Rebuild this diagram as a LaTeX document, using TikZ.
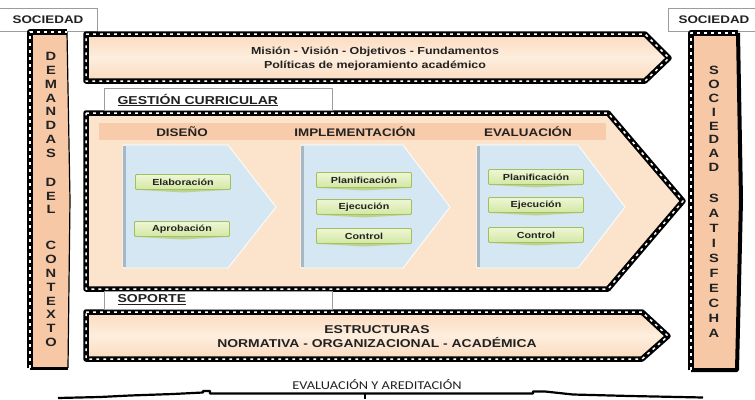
\documentclass[tikz,border=0pt]{standalone}
\usepackage{fontspec}
\setmainfont{Liberation Sans}[FakeStretch=1.22]
\newfontfamily\captionfont{Carlito}[FakeStretch=1.2]
\usetikzlibrary{calc}

\definecolor{peach}{HTML}{F7C8A6}
\definecolor{peachlight}{HTML}{FEEEDF}
\definecolor{peachmid}{HTML}{FADABD}
\definecolor{bigfill}{HTML}{FCE4CC}
\definecolor{headstrip}{HTML}{F8CCAB}
\definecolor{chevblue}{HTML}{D4E7F2}
\definecolor{chevedge}{HTML}{A4B8C8}
\definecolor{boxlight}{HTML}{EEF7D6}
\definecolor{boxdark}{HTML}{D2E7A2}
\definecolor{boxline}{HTML}{A2BF60}
\definecolor{labelgray}{HTML}{9C9C9C}
\definecolor{ink}{HTML}{222222}

\tikzset{
  film/.style={draw=black, line width=5.5pt, line join=round,
    postaction={draw=white, line width=1.5pt, line join=round,
      dash pattern=on 2.8pt off 4.2pt}},
  tag/.style={draw=labelgray, line width=0.8pt, fill=white},
  chev/.style={fill=chevblue, draw=white, line width=0.8pt},
  task/.style={draw=boxline, line width=0.9pt, top color=boxlight,
    bottom color=boxdark, minimum width=95pt, minimum height=15pt,
    inner sep=0pt, rounded corners=1pt, text=ink,
    font=\bfseries\fontsize{8.8}{10}\selectfont},
  head/.style={text=ink, font=\bfseries\fontsize{11}{13}\selectfont},
  banner/.style={text=ink, align=center,
    font=\bfseries\fontsize{10.5}{14}\selectfont},
  letters/.style={align=center, inner sep=0pt, text=ink,
    font=\bfseries\fontsize{12}{13.8}\selectfont},
}

\begin{document}
\begin{tikzpicture}[x=1pt, y=-1pt]
\useasboundingbox (0,0) rectangle (755,399);

% society labels in the corners
\draw[tag] (-2,8) rectangle (97,31);
\node[head] (socL) at (48,20) {SOCIEDAD};
\draw[tag] (668,8) rectangle (757,31);
\node[head] (socR) at (714,20) {SOCIEDAD};

% left band: demands of the context
\fill[peach] (30,32) -- (67,32) -- (70,200) -- (68,368) -- (30,368) -- cycle;
\draw[black, line width=1.2pt] (67,32) -- (70,200) -- (68,368);
\draw[black, line width=3pt] (30,368) -- (68,368);
\draw[film] (30,368) -- (30,32) -- (67,32);
\node[letters] (demA) at (51,105) {D\\E\\M\\A\\N\\D\\A\\S};
\node[letters] (demB) at (51,196) {D\\E\\L};
\node[letters] (demC) at (51,294) {C\\O\\N\\T\\E\\X\\T\\O};

% right band: satisfied society
\fill[peach] (691,33) -- (738,33) -- (741,200) -- (737,370) -- (691,370) -- cycle;
\draw[black, line width=4pt, line join=round] (738,33) -- (741,200) -- (737,370) -- (691,370);
\draw[film] (691,370) -- (691,33) -- (738,33);
\node[letters] (socA) at (714,119) {S\\O\\C\\I\\E\\D\\A\\D};
\node[letters, font=\bfseries\fontsize{12}{15}\selectfont] (socB) at (714,266) {S\\A\\T\\I\\S\\F\\E\\C\\H\\A};

% mission banner
\draw[film, top color=peachmid, bottom color=peachmid, middle color=peachlight]
  (86,34) -- (645,34) -- (669,58) -- (645,81) -- (86,81) -- cycle;
\node[banner, font=\bfseries\fontsize{10.2}{14}\selectfont] (mision) at (375,59)
  {Misión - Visión - Objetivos - Fundamentos\\Políticas de mejoramiento académico};

% curricular management arrow
\draw[film, fill=bigfill] (86,113) -- (608,113) -- (683,201) -- (608,289) -- (86,289) -- cycle;
\fill[headstrip] (99,123) rectangle (606,140);
\node[head] (hDis) at (182,132) {DISEÑO};
\node[head] (hImp) at (355,132) {IMPLEMENTACIÓN};
\node[head] (hEva) at (528,132) {EVALUACIÓN};

% phase chevrons
\draw[chev] (123,145) -- (228,145) -- (276,207) -- (228,268) -- (123,268) -- cycle;
\draw[chev] (301,145) -- (403,145) -- (450,207) -- (403,268) -- (301,268) -- cycle;
\draw[chev] (477,145) -- (578,145) -- (625,207) -- (578,268) -- (477,268) -- cycle;
\foreach \x in {124.5,302.5,478.5}
  \draw[chevedge, line width=3pt] (\x,146) -- (\x,267);

% tasks
\node[task] (elab) at (183,182) {Elaboración};
\node[task] (apro) at (182,229) {Aprobación};
\node[task] (planI) at (364,180) {Planificación};
\node[task] (ejecI) at (364,207) {Ejecución};
\node[task] (contI) at (364,236) {Control};
\node[task] (planE) at (536,177) {Planificación};
\node[task] (ejecE) at (536,205) {Ejecución};
\node[task] (contE) at (536,235) {Control};
\foreach \n in {elab,apro,planI,ejecI,contI,planE,ejecE,contE}
  \fill[boxline!70] ([xshift=3pt]\n.south west) -- ($(\n.south)+(0,2.5)$)
    -- ([xshift=-3pt]\n.south east) -- cycle;

% structures banner
\draw[film, top color=peachmid, bottom color=peachmid, middle color=peachlight]
  (86,312) -- (642,312) -- (668,336) -- (642,359) -- (86,359) -- cycle;
\node[banner, font=\bfseries\fontsize{11.4}{14}\selectfont] (estr) at (377,337)
  {ESTRUCTURAS\\NORMATIVA - ORGANIZACIONAL - ACADÉMICA};

% section labels
\draw[tag] (104,88) rectangle (332,110);
\node[head, anchor=west, font=\bfseries\fontsize{11.5}{13}\selectfont] (gest) at (114,100) {\underline{GESTIÓN CURRICULAR}};
\draw[tag] (104,291) rectangle (332,309);
\node[head, anchor=west, font=\bfseries\fontsize{11.5}{13}\selectfont] (sopo) at (114,300) {\underline{SOPORTE}};

% evaluation base line
\node[text=ink, font=\captionfont\fontsize{12}{13}\selectfont] (evac) at (377,385)
  {EVALUACIÓN Y AREDITACIÓN};
\draw[black, line width=2.2pt, line join=round]
  (58,398) -- (100,397) -- (130,395.5) -- (173,394) -- (203,392.5) -- (203,391)
  -- (210,391) -- (210,393.5) -- (533,393.5) -- (533,391.5) -- (545,391.5)
  -- (573,394.5) -- (630,396) -- (703,397.5);
\draw[black, line width=2pt] (365,393.5) -- (365,399);
\end{tikzpicture}
\end{document}
